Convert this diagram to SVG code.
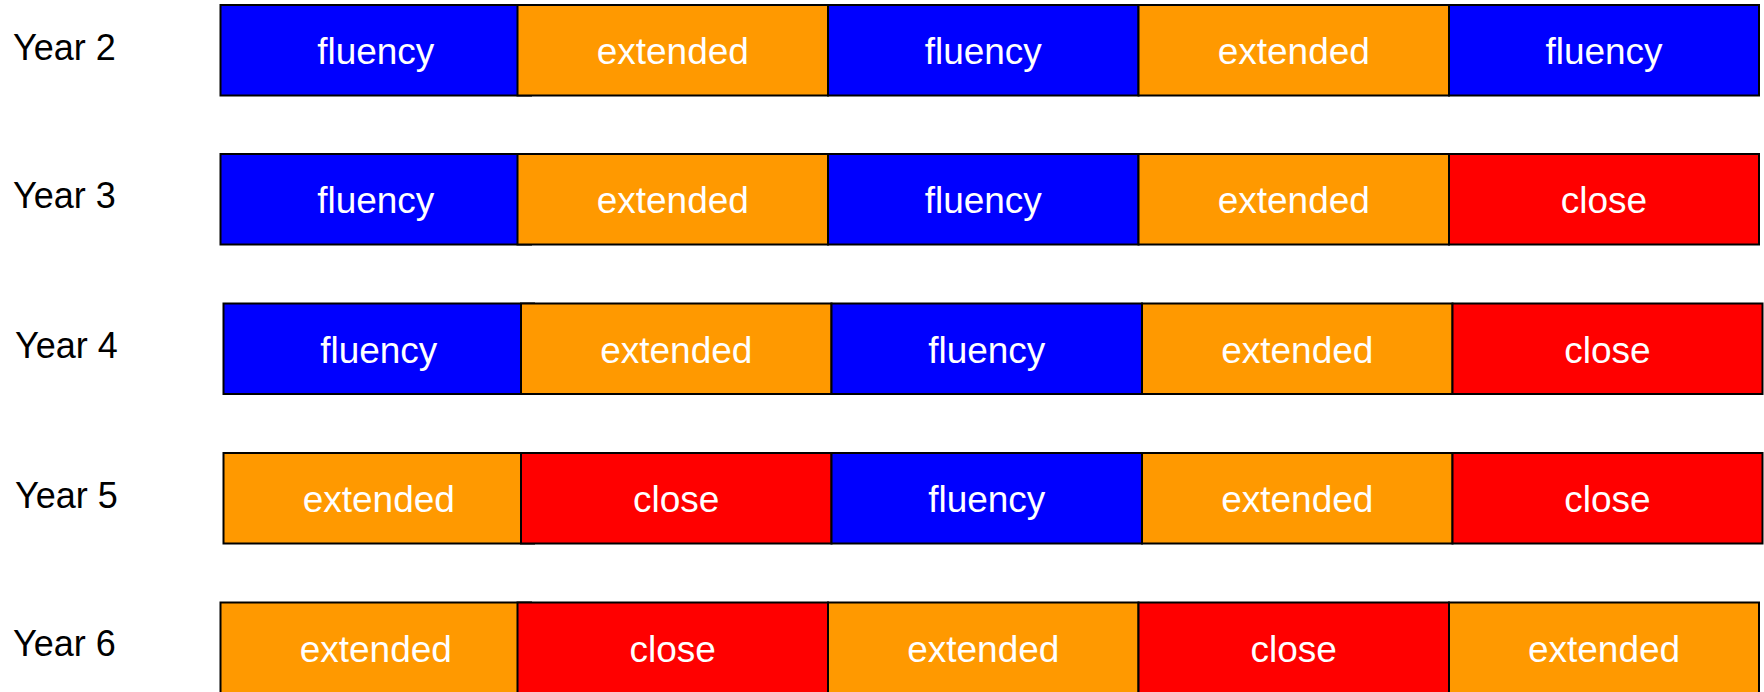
<svg xmlns="http://www.w3.org/2000/svg" width="1764" height="692" viewBox="0 0 1764 692">
<style>
  .cell { stroke: #000; stroke-width: 2; }
  .fl { fill: #0000ff; }
  .ex { fill: #ff9900; }
  .cl { fill: #ff0000; }
  .ct { font-family: "Liberation Sans", Arial, sans-serif; font-size: 37px; fill: #ffffff; text-anchor: middle; }
  .lbl { font-family: "Liberation Sans", Arial, sans-serif; font-size: 36px; fill: #000000; }
</style>
<rect x="0" y="0" width="1764" height="692" fill="#ffffff"/>

<!-- Year 2 -->
<g id="year2">
  <text class="lbl" x="13" y="60">Year 2</text>
  <g id="y2c1"><rect class="cell fl" x="220.5" y="5" width="310.5" height="90.5"/><text class="ct" x="375.75" y="64">fluency</text></g>
  <g id="y2c2"><rect class="cell ex" x="517.5" y="5" width="310.5" height="90.5"/><text class="ct" x="672.75" y="64">extended</text></g>
  <g id="y2c3"><rect class="cell fl" x="828" y="5" width="310.5" height="90.5"/><text class="ct" x="983.25" y="64">fluency</text></g>
  <g id="y2c4"><rect class="cell ex" x="1138.5" y="5" width="310.5" height="90.5"/><text class="ct" x="1293.75" y="64">extended</text></g>
  <g id="y2c5"><rect class="cell fl" x="1449" y="5" width="310" height="90.5"/><text class="ct" x="1604" y="64">fluency</text></g>
</g>

<!-- Year 3 -->
<g id="year3">
  <text class="lbl" x="13" y="208">Year 3</text>
  <g id="y3c1"><rect class="cell fl" x="220.5" y="154" width="310.5" height="90.5"/><text class="ct" x="375.75" y="213">fluency</text></g>
  <g id="y3c2"><rect class="cell ex" x="517.5" y="154" width="310.5" height="90.5"/><text class="ct" x="672.75" y="213">extended</text></g>
  <g id="y3c3"><rect class="cell fl" x="828" y="154" width="310.5" height="90.5"/><text class="ct" x="983.25" y="213">fluency</text></g>
  <g id="y3c4"><rect class="cell ex" x="1138.5" y="154" width="310.5" height="90.5"/><text class="ct" x="1293.75" y="213">extended</text></g>
  <g id="y3c5"><rect class="cell cl" x="1449" y="154" width="310" height="90.5"/><text class="ct" x="1604" y="213">close</text></g>
</g>

<!-- Year 4 -->
<g id="year4">
  <text class="lbl" x="15" y="358">Year 4</text>
  <g id="y4c1"><rect class="cell fl" x="223.5" y="303.5" width="310.5" height="90.5"/><text class="ct" x="378.75" y="363">fluency</text></g>
  <g id="y4c2"><rect class="cell ex" x="521" y="303.5" width="310.5" height="90.5"/><text class="ct" x="676.25" y="363">extended</text></g>
  <g id="y4c3"><rect class="cell fl" x="831.5" y="303.5" width="310.5" height="90.5"/><text class="ct" x="986.75" y="363">fluency</text></g>
  <g id="y4c4"><rect class="cell ex" x="1142" y="303.5" width="310.5" height="90.5"/><text class="ct" x="1297.25" y="363">extended</text></g>
  <g id="y4c5"><rect class="cell cl" x="1452.5" y="303.5" width="310" height="90.5"/><text class="ct" x="1607.5" y="363">close</text></g>
</g>

<!-- Year 5 -->
<g id="year5">
  <text class="lbl" x="15" y="508">Year 5</text>
  <g id="y5c1"><rect class="cell ex" x="223.5" y="453" width="310.5" height="90.5"/><text class="ct" x="378.75" y="512">extended</text></g>
  <g id="y5c2"><rect class="cell cl" x="521" y="453" width="310.5" height="90.5"/><text class="ct" x="676.25" y="512">close</text></g>
  <g id="y5c3"><rect class="cell fl" x="831.5" y="453" width="310.5" height="90.5"/><text class="ct" x="986.75" y="512">fluency</text></g>
  <g id="y5c4"><rect class="cell ex" x="1142" y="453" width="310.5" height="90.5"/><text class="ct" x="1297.25" y="512">extended</text></g>
  <g id="y5c5"><rect class="cell cl" x="1452.5" y="453" width="310" height="90.5"/><text class="ct" x="1607.5" y="512">close</text></g>
</g>

<!-- Year 6 -->
<g id="year6">
  <text class="lbl" x="13" y="656">Year 6</text>
  <g id="y6c1"><rect class="cell ex" x="220.5" y="602.5" width="310.5" height="90.5"/><text class="ct" x="375.75" y="662">extended</text></g>
  <g id="y6c2"><rect class="cell cl" x="517.5" y="602.5" width="310.5" height="90.5"/><text class="ct" x="672.75" y="662">close</text></g>
  <g id="y6c3"><rect class="cell ex" x="828" y="602.5" width="310.5" height="90.5"/><text class="ct" x="983.25" y="662">extended</text></g>
  <g id="y6c4"><rect class="cell cl" x="1138.5" y="602.5" width="310.5" height="90.5"/><text class="ct" x="1293.75" y="662">close</text></g>
  <g id="y6c5"><rect class="cell ex" x="1449" y="602.5" width="310" height="90.5"/><text class="ct" x="1604" y="662">extended</text></g>
</g>

<g id="connectors"></g>
</svg>
